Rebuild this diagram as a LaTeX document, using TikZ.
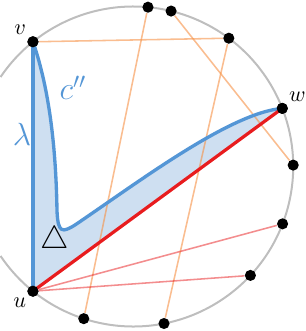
\documentclass[tikz,border=0pt]{standalone}
\usepackage{amsmath, amssymb}
\usepackage{tikz}
\usetikzlibrary{calc, positioning, arrows.meta}
\usepackage{xcolor}
\definecolor{curveBlue}{RGB}{84, 150, 214}
\definecolor{regionBg}{RGB}{206, 223, 241}
\definecolor{chordRed}{RGB}{232, 28, 30}
\definecolor{chordOrange}{RGB}{246, 145, 70}
\definecolor{rimGray}{RGB}{190, 190, 190}

\begin{document}
\begin{tikzpicture}[x=0.45pt, y=0.45pt, font=\normalsize,
  dot/.style={circle, fill=black, inner sep=0pt, minimum size=5pt},
  rim/.style={draw=rimGray, line width=0.9pt},
  chordO/.style={draw=chordOrange, opacity=0.6, line width=0.7pt},
  chordR/.style={draw=chordRed, opacity=0.5, line width=0.7pt},
  bluepath/.style={draw=curveBlue, line width=1.5pt, line cap=round, line join=round},
  biglabel/.style={font=\Large}]
  \useasboundingbox (0,0) rectangle (306,331);
  % circle and its points
  \coordinate (O) at (133.2,164.5);
  \draw[rim] ([shift={(O)}]-146:160) arc[start angle=-146, end angle=146, radius=160];
  \node[dot, label={[inner sep=1pt]above left:$v$}] (v) at ([shift={(O)}]128.8:160) {};
  \node[dot, label={[inner sep=1pt]below left:$u$}] (u) at ([shift={(O)}]231.2:160) {};
  \node[dot, label={[inner sep=1pt]above right:$w$}] (w) at ([shift={(O)}]21.3:160) {};
  \node[dot] (t1) at ([shift={(O)}]84.7:160) {};
  \node[dot] (t2) at ([shift={(O)}]76.3:160) {};
  \node[dot] (t3) at ([shift={(O)}]53.3:160) {};
  \node[dot] (r1) at ([shift={(O)}]0.5:160) {};
  \node[dot] (r2) at ([shift={(O)}]-21:160) {};
  \node[dot] (r3) at ([shift={(O)}]-42.9:160) {};
  \node[dot] (b1) at ([shift={(O)}]-78.9:160) {};
  \node[dot] (b2) at ([shift={(O)}]-108:160) {};
  % shaded region
  \fill[regionBg] (v.center) -- (u.center) -- (w.center)
    .. controls (230,218) and (140,150) .. (75,106)
    .. controls (62,98) and (58,98) .. (57,120)
    .. controls (56,180) and (50,240) .. (v.center);
  % chords
  \draw[chordO] (v) -- (t3);
  \draw[chordO] (t1) -- (b2);
  \draw[chordO] (t2) -- (r1);
  \draw[chordO] (t3) -- (b1);
  \draw[chordR] (u) -- (r2);
  \draw[chordR] (u) -- (r3);
  % lambda, c'' and the red chord
  \draw[bluepath] (v.center) -- (u.center);
  \draw[bluepath] (w.center)
    .. controls (230,218) and (140,150) .. (75,106)
    .. controls (62,98) and (58,98) .. (57,120)
    .. controls (56,180) and (50,240) .. (v.center);
  \draw[chordRed, line width=1.45pt] (u.center) -- (w.center);
  \node[dot] at (v) {};
  \node[dot] at (u) {};
  \node[dot] at (w) {};
  \node[biglabel, text=curveBlue] (lam) at (22,197) {$\lambda$};
  \node[biglabel, text=curveBlue] (cpp) at (73,243) {$c''$};
  \node[biglabel] (tri) at (55,90) {$\triangle$};
\end{tikzpicture}
\end{document}
